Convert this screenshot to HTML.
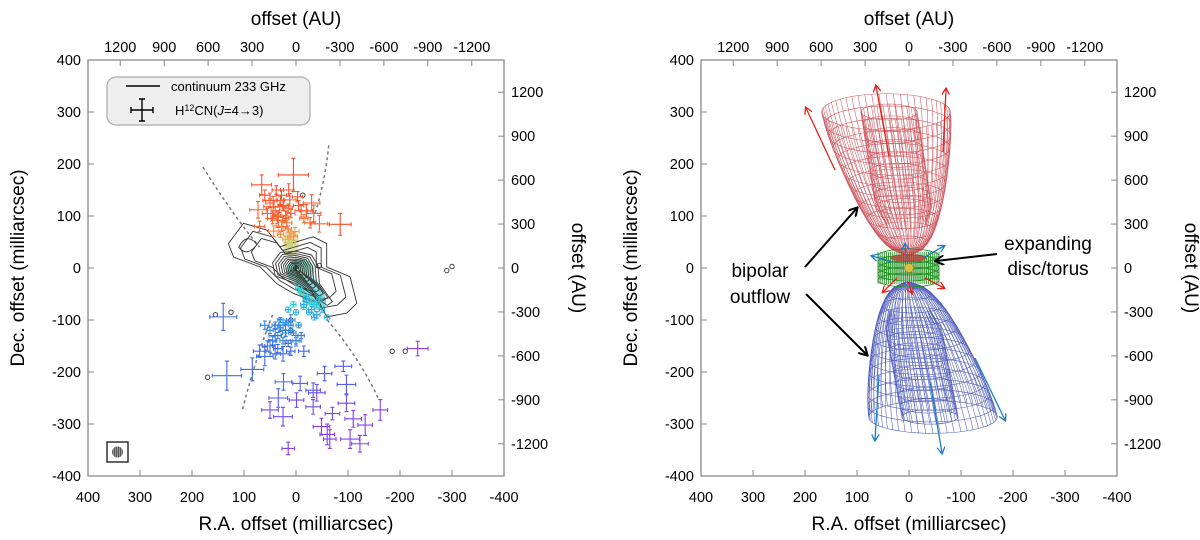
<!DOCTYPE html>
<html><head><meta charset="utf-8"><style>
html,body{margin:0;padding:0;background:#fff;}
svg{display:block;font-family:"Liberation Sans",Arial,sans-serif;}
</style></head><body>
<svg id="fig" width="1200" height="540" viewBox="0 0 1200 540" xmlns="http://www.w3.org/2000/svg">
<defs>
<marker id="ah" markerWidth="10" markerHeight="10" refX="8" refY="5" orient="auto" markerUnits="userSpaceOnUse"><path d="M0,0 L9,5 L0,10" fill="none" stroke="#000" stroke-width="2"/></marker>
<marker id="ahr" markerWidth="8" markerHeight="8" refX="6" refY="4" orient="auto" markerUnits="userSpaceOnUse"><path d="M0,0 L7,4 L0,8" fill="none" stroke="#e8201a" stroke-width="1.3"/></marker>
<marker id="ahb" markerWidth="8" markerHeight="8" refX="6" refY="4" orient="auto" markerUnits="userSpaceOnUse"><path d="M0,0 L7,4 L0,8" fill="none" stroke="#1a7fc8" stroke-width="1.3"/></marker>
<pattern id="hatch" width="2" height="2" patternUnits="userSpaceOnUse"><rect width="2" height="2" fill="#999"/><rect width="1" height="2" fill="#555"/></pattern>
</defs>
<g id="left"></g>
<g id="right"></g>
</svg>
<script>
// ---- data (left panel) ----
const xTicks = [400,300,200,100,0,-100,-200,-300,-400];
const yTicks = [400,300,200,100,0,-100,-200,-300,-400];
const auTicks = [1200,900,600,300,0,-300,-600,-900,-1200];
const crossRA  = [5,66,-85,12,44,34,-34,-3,73,18,43,5,31,-27,8,20,28,50,14,-10,36,24,2,-15,
  140,-5,-20,-30,-40,-15,31,20,40,10,50,0,25,60,133,84,-91,-97,-55,24,-8,-33,34,
  50,25,-49,-133,-162,-104,-65,15,-234,-123,-97,-33,-1,-70,-110,-60,-40];
const crossDec = [179,160,84,131,118,92,105,137,112,87,71,61,118,87,47,100,80,130,150,110,98,120,70,95,
  -94,-40,-60,-80,-90,-70,-110,-120,-130,-100,-150,-140,-165,-170,-207,-195,-189,-224,-203,-219,-222,-235,-250,
  -273,-286,-305,-302,-273,-329,-329,-347,-155,-338,-260,-267,-254,-280,-290,-320,-240];
const crossErrX = [29,19,21,12,18,14,14,10,16,10,10,8,12,10,6,10,10,14,10,12,12,10,8,8,
  26,6,6,6,6,6,10,10,12,8,10,10,12,16,28,22,16,18,14,16,14,14,18,
  16,18,16,14,14,18,12,12,20,16,16,14,14,14,16,14,16];
const crossErrY = [32,19,21,12,20,14,16,10,16,10,10,8,12,10,6,10,10,14,12,12,12,10,8,8,
  26,6,6,6,6,6,12,12,12,10,12,10,14,18,28,22,10,18,14,16,14,14,18,
  16,18,16,20,20,18,18,12,14,16,16,14,14,12,16,20,16];
const crossVel = [12,10,11,9,9,8,9,10,9,7,6,5,9,8,3,8,7,10,10,9,8,9,5,7,
  -6,-2,-3,-3,-4,-3,-5,-5,-6,-5,-6,-5,-6,-6,-6,-6,-7,-7,-7,-6,-7,-7,-7,
  -8,-8,-9,-9,-9,-9,-9,-9,-9,-9,-8,-8,-8,-8,-9,-9,-8];
const extraRA  = [30,25,40,15,45,35,20,10,50,55,28,38,60,-5,-20,25,15,30,-45,-30,70,10,20,12,
  -10,-20,-30,-40,-50,-60,-15,5,-25,0,15,-45,-35,
  30,20,40,10,30,50,20,35,5,45,25,15,55,35,0,-10,60,40,70,-15,10,-5];
const extraDec = [130,120,110,115,95,100,95,105,125,105,140,150,140,120,110,80,75,65,85,125,80,60,55,45,
  -45,-55,-65,-70,-80,-95,-75,-70,-85,-85,-80,-60,-95,
  -100,-105,-110,-110,-115,-120,-125,-130,-125,-140,-140,-145,-150,-155,-140,-130,-110,-165,-160,-160,-160,-110];
const extraErr = [8,10,8,8,10,8,6,8,8,10,10,8,10,10,12,8,6,6,16,16,10,6,6,5,
  5,5,5,5,5,5,5,5,5,5,5,5,5,
  5,5,6,5,5,6,6,6,5,8,6,6,10,8,6,6,8,10,12,10,8,5];
const extraVel = [10,10,9,9,8,8,8,8,9,9,11,11,11,10,9,7,7,6,8,9,8,5,4,3,
  -1,-2,-2,-2,-3,-3,-2,-2,-3,-3,-3,-2,-3,
  -4,-4,-5,-4,-5,-5,-5,-5,-5,-5,-5,-6,-6,-6,-5,-5,-5,-6,-6,-6,-6,-4];
const contourRA  = [130,101,56,31,-33,-59,-59,-104,-117,-97,-59,-46,5,37,69,120];
const contourDec = [47,86,73,41,60,47,2,-17,-68,-87,-94,-68,-49,-30,2,21];
const coreRA  = [45,30,0,-30,-42,-45,-70,-60,-30,0,40];
const coreDec = [10,30,32,25,5,-30,-65,-72,-50,-30,-15];
const coreLevels = [1.0,0.87,0.75,0.64,0.54,0.45,0.36,0.28,0.2,0.12];
const dashUpL = [[179,194],[120,100],[70,40]];
const dashLoL = [[45,-90],[80,-180],[104,-277]];
const dashUpR = [[-63,236],[-55,160],[-35,100]];
const dashLoR = [[-60,-100],[-120,-170],[-158,-250]];

const NS='http://www.w3.org/2000/svg';
function mk(tag,attrs,parent){const e=document.createElementNS(NS,tag);for(const k in attrs)e.setAttribute(k,attrs[k]);parent.appendChild(e);return e;}

function panel(gid,x0,prefix){
  const g=document.getElementById(gid);
  const W=416,y0=60,H=416;
  const sx=v=>x0+W/2-v*W/800, sy=v=>y0+H/2-v*H/800;
  const au=W/800/3.55;
  const axes=mk('g',{},g);
  
  
  const frame=mk('rect',{x:x0,y:y0,width:W,height:H,fill:'none',stroke:'#888','stroke-width':1.3},axes);
  
  
  xTicks.forEach(v=>{
    if(Math.abs(v)<400) mk('line',{x1:sx(v),x2:sx(v),y1:y0+H,y2:y0+H-6,stroke:'#888'},axes);
    const t=mk('text',{x:sx(v),y:y0+H+26,'font-size':14.5,'text-anchor':'middle'},axes);
    t.textContent=v;
    
    
  });
  yTicks.forEach(v=>{
    if(Math.abs(v)<400) mk('line',{x1:x0,x2:x0+6,y1:sy(v),y2:sy(v),stroke:'#888'},axes);
    const t=mk('text',{x:x0-7,y:sy(v)+5,'font-size':14.5,'text-anchor':'end'},axes);
    t.textContent=v;
    
    
  });
  auTicks.forEach(v=>{
    const px=x0+W/2-v*au, py=y0+H/2-v*au;
    mk('line',{x1:px,x2:px,y1:y0,y2:y0+6,stroke:'#888'},axes);
    mk('line',{x1:x0+W,x2:x0+W-6,y1:py,y2:py,stroke:'#888'},axes);
    const t=mk('text',{x:px,y:y0-8,'font-size':14.5,'text-anchor':'middle'},axes);
    t.textContent=v;
    
    
    const r=mk('text',{x:x0+W+7,y:py+5,'font-size':14.5,'text-anchor':'start'},axes);
    r.textContent=v;
    
    
  });
  const tt=mk('text',{x:x0+W/2,y:25,'font-size':19,'text-anchor':'middle'},axes);tt.textContent='offset (AU)';
  
  const bt=mk('text',{x:x0+W/2,y:530,'font-size':19,'text-anchor':'middle'},axes);bt.textContent='R.A. offset (milliarcsec)';
  
  const lt=mk('text',{x:0,y:0,'font-size':19,'text-anchor':'middle',transform:`translate(${x0-64},${y0+H/2}) rotate(-90)`},axes);lt.textContent='Dec. offset (milliarcsec)';
  
  const rt=mk('text',{x:0,y:0,'font-size':19,'text-anchor':'middle',transform:`translate(${x0+W+68},${y0+H/2}) rotate(90)`},axes);rt.textContent='offset (AU)';
  
  return {g,sx,sy};
}

function velColor(v){
  const stops=[[-9,[140,60,235]],[-6,[60,110,230]],[-4,[40,150,230]],[-2,[40,200,220]],[0,[60,200,140]],[3,[200,210,110]],[5,[250,150,70]],[8,[250,100,50]],[12,[245,70,40]]];
  if(v<=stops[0][0])return `rgb(${stops[0][1]})`;
  for(let i=1;i<stops.length;i++){if(v<=stops[i][0]){const a=stops[i-1],b=stops[i],t=(v-a[0])/(b[0]-a[0]);
    return 'rgb('+a[1].map((c,j)=>Math.round(c+(b[1][j]-c)*t)).join(',')+')';}}
  return `rgb(${stops[stops.length-1][1]})`;
}

// LEFT
const L=panel('left',88,'left');
(function(){
  const {g,sx,sy}=L;
  const blob=mk('g',{opacity:0.6},g);
  
  mk('ellipse',{cx:sx(-28),cy:sy(-45),rx:11,ry:22,fill:'#30c0c0',transform:`rotate(-35 ${sx(-28)} ${sy(-45)})`},blob);
  mk('ellipse',{cx:sx(-8),cy:sy(-5),rx:14,ry:12,fill:'#40c8a0'},blob);
  mk('ellipse',{cx:sx(10),cy:sy(48),rx:8,ry:14,fill:'#c8d080'},blob);
  [dashUpL,dashLoL,dashUpR,dashLoR].forEach(c=>{
    const p=mk('path',{d:`M${sx(c[0][0])},${sy(c[0][1])} Q${sx(c[1][0])},${sy(c[1][1])} ${sx(c[2][0])},${sy(c[2][1])}`,fill:'none',stroke:'#777','stroke-width':1.5,'stroke-dasharray':'3,3'},g);
    
  });
  const cg=mk('g',{fill:'none',stroke:'#333','stroke-width':0.9},g);
  
  let d='M'+contourRA.map((v,i)=>sx(v)+','+sy(contourDec[i])).join(' L')+'Z';
  mk('path',{d,'stroke-linejoin':'round'},cg);
  [0.82,0.66].forEach(s=>{
    const d2='M'+contourRA.map((v,i)=>sx(v*s)+','+sy(contourDec[i]*s)).join(' L')+'Z';
    mk('path',{d:d2,'stroke-linejoin':'round'},cg);
  });
  coreLevels.forEach(s=>{
    const dd='M'+coreRA.map((v,i)=>sx(v*s)+','+sy(coreDec[i]*s)).join(' L')+'Z';
    mk('path',{d:dd,'stroke-linejoin':'round'},cg);
  });
  mk('path',{d:`M${sx(110)},${sy(40)} Q${sx(95)},${sy(70)} ${sx(75)},${sy(45)} Q${sx(95)},${sy(20)} ${sx(110)},${sy(40)}Z`},cg);
  [[155,-90],[170,-210],[125,-85],[-45,5],[-185,-160],[-210,-160],[-300,3],[-290,-5],[-13,140],[10,-100],[10,-120]].forEach(p=>mk('circle',{cx:sx(p[0]),cy:sy(p[1]),r:2.2},cg));
  const xg=mk('g',{'stroke-width':1.1},g);
  
  function cross(ra,dec,ex0,ey0,vel){
    const c=velColor(vel);
    const x=sx(ra),y=sy(dec),ex=ex0*0.52,ey=ey0*0.52;
    const s=mk('g',{stroke:c},xg);
    
    
    mk('path',{d:`M${x-ex},${y}H${x+ex}M${x},${y-ey}V${y+ey}M${x-ex},${y-2}v4M${x+ex},${y-2}v4M${x-2},${y-ey}h4M${x-2},${y+ey}h4`},s);
  }
  extraRA.forEach((ra,i)=>cross(ra,extraDec[i],extraErr[i],extraErr[i],extraVel[i]));
  crossRA.forEach((ra,i)=>cross(ra,crossDec[i],crossErrX[i],crossErrY[i],crossVel[i]));
  mk('path',{d:`M${sx(0)-3},${sy(0)} h6 M${sx(0)},${sy(0)-3} v6`,stroke:'#000','stroke-width':1},g);
  const lg=mk('g',{},g);
  mk('rect',{x:107,y:77,width:203,height:48,rx:9,fill:'#eeeeee',stroke:'#aaa','stroke-width':1.2},lg);
  mk('line',{x1:126,x2:160,y1:86,y2:86,stroke:'#000','stroke-width':1.4},lg);
  const t1=mk('text',{x:171,y:91,'font-size':13},lg);t1.textContent='continuum 233 GHz';
  
  mk('path',{d:'M131,110 h22 M131,107 v6 M153,107 v6 M142,99 v22 M139,99 h6 M139,121 h6',stroke:'#000','stroke-width':1.4,fill:'none'},lg);
  const t2=mk('text',{x:175,y:115,'font-size':13},lg);
  t2.innerHTML='H<tspan font-size="9" dy="-4">12</tspan><tspan dy="4">CN(</tspan><tspan font-style="italic">J</tspan>=4→3)';
  
  const bm=mk('g',{},g);
  mk('rect',{x:107,y:442,width:21,height:20,fill:'#fff',stroke:'#222','stroke-width':1.4},bm);
  mk('ellipse',{cx:117.5,cy:452,rx:5.5,ry:5.5,fill:'url(#hatch)'},bm);
})();

// RIGHT
const R=panel('right',701,'right');
(function(){
  const g=R.g;
  function lobe(name,col,wx,wy,tx,ty,rxMax,ryMax,sign,innerR){
    const lg=mk('g',{fill:'none',stroke:col,'stroke-width':0.55,opacity:0.8},g);
    
    const prof=t=>Math.max(0.06,Math.pow(t,0.45))*(1-0.04*Math.pow(t,8));
    const N=12;
    for(let k=1;k<=N;k++){const t=k/N;const cx=wx+(tx-wx)*t,cy=wy+(ty-wy)*t,rx=rxMax*prof(t),ry=ryMax*prof(t);
      mk('ellipse',{cx,cy,rx,ry},lg);
      if(t>0.3) mk('ellipse',{cx:cx+sign*3,cy,rx:Math.min(rx*0.9,rxMax*innerR),ry:Math.min(ry*0.9,ryMax*innerR)},lg);}
    for(let a=0;a<56;a++){const th=a/56*2*Math.PI;let pts=[],pts2=[];
      for(let k=0;k<=24;k++){const t=k/24;const cx=wx+(tx-wx)*t,cy=wy+(ty-wy)*t,rx=rxMax*prof(t),ry=ryMax*prof(t);
        pts.push((cx+rx*Math.cos(th)).toFixed(1)+','+(cy+ry*Math.sin(th)).toFixed(1));
        const ir=Math.min(rx*0.9,rxMax*innerR*Math.min(1,t/0.5+0.3)), iry=ir*ryMax/rxMax;
        if(t>=0.2)pts2.push((cx+sign*3+ir*Math.cos(th)).toFixed(1)+','+(cy+iry*Math.sin(th)).toFixed(1));}
      mk('polyline',{points:pts.join(' ')},lg);
      if(a%2==0)mk('polyline',{points:pts2.join(' ')},lg);}
  }
  lobe('red-outflow-lobe','#c0303a',908,254,886,112,67,19,1,0.42);
  lobe('blue-outflow-lobe','#2838a8',908,283,933,417,67,17,-1,0.42);
  const tg=mk('g',{fill:'none',stroke:'#1a8a1a','stroke-width':0.8},g);
  
  mk('rect',{x:878,y:256,width:61,height:24,fill:'rgba(40,150,40,0.35)',stroke:'none'},tg);
  for(let k=0;k<5;k++){mk('ellipse',{cx:908.5,cy:256+k*6,rx:30.5,ry:7},tg);}
  for(let a=0;a<30;a++){const x=878+a*61/29;mk('line',{x1:x,x2:x,y1:252,y2:284},tg);}
  mk('ellipse',{cx:908.5,cy:258,rx:18,ry:4,fill:'#c03030',stroke:'none',opacity:0.7},tg);
  const star=mk('circle',{cx:909,cy:268,r:4.5,fill:'#d8c040',stroke:'#a08820','stroke-width':0.6},g);
  
  const av=mk('g',{'stroke-width':1.3,fill:'none'},g);
  
  [[835,170,806,108],[889,156,876,86],[943,152,946,89],[908,282,912,293],[897,278,883,292],[925,278,944,288]].forEach(a=>mk('line',{x1:a[0],y1:a[1],x2:a[2],y2:a[3],stroke:'#e8201a','marker-end':'url(#ahr)'},av));
  [[879,375,875,440],[930,382,942,453],[975,358,1005,420],[906,258,905,244],[893,262,872,256],[923,258,944,246]].forEach(a=>mk('line',{x1:a[0],y1:a[1],x2:a[2],y2:a[3],stroke:'#1a7fc8','marker-end':'url(#ahb)'},av));
  const an=mk('g',{stroke:'#000','stroke-width':2},g);
  
  mk('line',{x1:805,y1:267,x2:857,y2:208,'marker-end':'url(#ah)'},an);
  mk('line',{x1:806,y1:294,x2:867,y2:355,'marker-end':'url(#ah)'},an);
  mk('line',{x1:997,y1:254,x2:936,y2:261,'marker-end':'url(#ah)'},an);
  const b1=mk('text',{x:760,y:277,'font-size':19,'text-anchor':'middle'},g);b1.textContent='bipolar';
  
  const b2=mk('text',{x:760,y:303,'font-size':19,'text-anchor':'middle'},g);b2.textContent='outflow';
  
  const e1=mk('text',{x:1048,y:250,'font-size':19,'text-anchor':'middle'},g);e1.textContent='expanding';
  
  const e2=mk('text',{x:1048,y:275,'font-size':19,'text-anchor':'middle'},g);e2.textContent='disc/torus';
  
})();
</script>
</body></html>
